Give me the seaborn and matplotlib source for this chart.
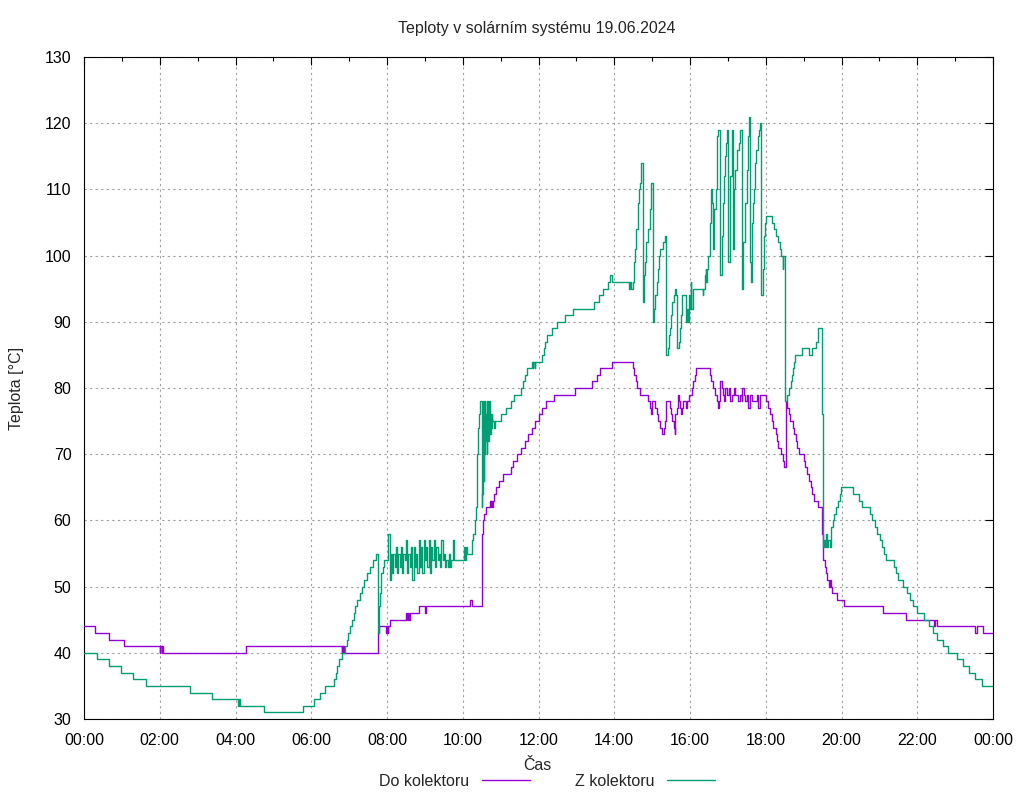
import matplotlib
matplotlib.use("Agg")
import matplotlib.pyplot as plt
import seaborn as sns
import pandas as pd
from matplotlib.ticker import MultipleLocator
from matplotlib.lines import Line2D

# ---------------- data ----------------
title_text = "Teploty v solárním systému 19.06.2024"
x_label = "Čas"
y_label = "Teplota [°C]"
series_names = ["Do kolektoru", "Z kolektoru"]
x_tick_labels = ["00:00", "02:00", "04:00", "06:00", "08:00", "10:00", "12:00",
                 "14:00", "16:00", "18:00", "20:00", "22:00", "00:00"]
y_ticks = [30, 40, 50, 60, 70, 80, 90, 100, 110, 120, 130]

do_kolektoru = [
    ("00:00", 44), ("00:17", 43), ("00:39", 42), ("01:04", 41), ("02:00", 40), ("02:01", 41),
    ("02:03", 40), ("02:04", 41), ("02:05", 40), ("04:17", 41), ("06:48", 40), ("06:49", 41),
    ("06:50", 40), ("06:51", 41), ("06:52", 40), ("07:45", 41), ("07:46", 43), ("07:47", 44),
    ("07:59", 43), ("08:00", 44), ("08:01", 43), ("08:02", 44), ("08:05", 45), ("08:30", 46),
    ("08:32", 45), ("08:34", 46), ("08:35", 45), ("08:37", 46), ("08:50", 47), ("09:00", 46),
    ("09:02", 47), ("10:11", 48), ("10:14", 47), ("10:30", 51), ("10:31", 58), ("10:32", 60),
    ("10:34", 61), ("10:37", 62), ("10:43", 63), ("10:44", 62), ("10:45", 63), ("10:47", 62),
    ("10:48", 63), ("10:50", 64), ("10:53", 65), ("10:58", 66), ("11:04", 67), ("11:17", 68),
    ("11:20", 69), ("11:26", 70), ("11:33", 71), ("11:38", 72), ("11:44", 73), ("11:49", 74),
    ("11:55", 75), ("12:00", 76), ("12:05", 77), ("12:12", 78), ("12:24", 79), ("12:58", 80),
    ("13:24", 81), ("13:33", 82), ("13:38", 83), ("13:56", 84), ("14:30", 83), ("14:32", 82),
    ("14:34", 81), ("14:36", 80), ("14:40", 79), ("14:54", 78), ("14:56", 77), ("14:58", 76),
    ("15:00", 78), ("15:05", 77), ("15:07", 76), ("15:10", 75), ("15:12", 74), ("15:15", 73),
    ("15:19", 74), ("15:21", 75), ("15:22", 78), ("15:28", 77), ("15:30", 76), ("15:32", 75),
    ("15:34", 74), ("15:36", 73), ("15:37", 76), ("15:39", 77), ("15:41", 79), ("15:43", 78),
    ("15:44", 77), ("15:45", 76), ("15:48", 77), ("15:49", 78), ("15:54", 77), ("15:55", 78),
    ("15:59", 79), ("16:03", 80), ("16:05", 81), ("16:08", 82), ("16:10", 83), ("16:32", 82),
    ("16:34", 81), ("16:37", 80), ("16:40", 79), ("16:42", 78), ("16:45", 77), ("16:46", 78),
    ("16:47", 81), ("16:50", 80), ("16:53", 79), ("16:54", 78), ("16:55", 80), ("16:58", 79),
    ("17:01", 80), ("17:03", 78), ("17:06", 79), ("17:09", 80), ("17:11", 79), ("17:16", 78),
    ("17:19", 79), ("17:22", 78), ("17:23", 80), ("17:25", 79), ("17:27", 78), ("17:30", 79),
    ("17:32", 77), ("17:35", 79), ("17:38", 78), ("17:46", 79), ("17:48", 77), ("17:51", 79),
    ("18:01", 78), ("18:04", 77), ("18:07", 76), ("18:10", 75), ("18:12", 74), ("18:16", 73),
    ("18:18", 72), ("18:20", 71), ("18:24", 70), ("18:27", 69), ("18:29", 68), ("18:32", 78),
    ("18:34", 77), ("18:37", 76), ("18:39", 75), ("18:43", 74), ("18:45", 73), ("18:48", 72),
    ("18:50", 71), ("18:53", 70), ("19:00", 69), ("19:02", 68), ("19:05", 67), ("19:08", 66),
    ("19:11", 65), ("19:14", 64), ("19:16", 63), ("19:23", 62), ("19:29", 58), ("19:30", 55),
    ("19:31", 54), ("19:34", 53), ("19:35", 52), ("19:37", 51), ("19:40", 50), ("19:42", 51),
    ("19:43", 50), ("19:45", 49), ("19:53", 48), ("20:04", 47), ("21:06", 46), ("21:42", 45),
    ("22:27", 44), ("22:28", 45), ("22:31", 44), ("23:31", 43), ("23:35", 44), ("23:44", 43),
    ("24:00", 43),
]

z_kolektoru = [
    ("00:00", 40), ("00:20", 39), ("00:40", 38), ("00:58", 37), ("01:18", 36), ("01:39", 35),
    ("02:48", 34), ("03:23", 33), ("04:04", 32), ("04:05", 33), ("04:07", 32), ("04:45", 31),
    ("05:47", 32), ("06:04", 33), ("06:14", 34), ("06:21", 35), ("06:36", 36), ("06:39", 37),
    ("06:41", 38), ("06:44", 39), ("06:49", 40), ("06:53", 41), ("06:56", 42), ("06:59", 43),
    ("07:01", 44), ("07:04", 45), ("07:07", 46), ("07:10", 47), ("07:13", 48), ("07:17", 49),
    ("07:21", 50), ("07:24", 51), ("07:28", 52), ("07:33", 53), ("07:38", 54), ("07:42", 55),
    ("07:46", 43), ("07:47", 45), ("07:48", 47), ("07:49", 49), ("07:50", 50), ("07:51", 52),
    ("07:53", 53), ("07:55", 54),
    ("08:02", 58), ("08:04", 51), ("08:06", 55), ("08:08", 52), ("08:10", 55), ("08:12", 53),
    ("08:14", 56), ("08:16", 52), ("08:18", 55), ("08:20", 53), ("08:22", 56), ("08:24", 52),
    ("08:26", 55), ("08:28", 54), ("08:30", 57), ("08:32", 52), ("08:34", 55), ("08:36", 53),
    ("08:38", 56), ("08:40", 51), ("08:42", 56), ("08:44", 53), ("08:46", 55), ("08:48", 52),
    ("08:50", 57), ("08:52", 53), ("08:54", 56), ("08:56", 52), ("08:58", 57), ("09:00", 54),
    ("09:02", 56), ("09:04", 53), ("09:06", 57), ("09:08", 52), ("09:10", 56), ("09:12", 54),
    ("09:14", 57), ("09:16", 53), ("09:18", 56), ("09:20", 54), ("09:22", 55), ("09:24", 53),
    ("09:26", 57), ("09:28", 54), ("09:30", 55), ("09:32", 53), ("09:34", 54), ("09:36", 53),
    ("09:38", 55), ("09:40", 53), ("09:42", 54), ("09:44", 57), ("09:46", 54),
    ("10:02", 56), ("10:03", 54), ("10:05", 56), ("10:06", 55), ("10:14", 57), ("10:17", 58),
    ("10:19", 60), ("10:21", 62), ("10:22", 66), ("10:23", 70), ("10:24", 74), ("10:25", 76),
    ("10:27", 78), ("10:30", 62), ("10:31", 64), ("10:32", 78), ("10:33", 66), ("10:34", 70),
    ("10:35", 78), ("10:36", 72), ("10:37", 76), ("10:38", 70), ("10:39", 78), ("10:40", 72),
    ("10:41", 75), ("10:42", 78), ("10:43", 73), ("10:44", 76), ("10:45", 74), ("10:46", 76),
    ("10:47", 75), ("10:49", 74), ("10:51", 75), ("11:01", 76), ("11:09", 77), ("11:17", 78),
    ("11:21", 79), ("11:32", 80), ("11:36", 81), ("11:38", 82), ("11:41", 83), ("11:49", 84),
    ("11:51", 83), ("11:52", 84), ("11:54", 83), ("11:55", 84), ("12:05", 85), ("12:08", 86),
    ("12:10", 87), ("12:13", 88), ("12:21", 89), ("12:30", 90), ("12:42", 91), ("12:55", 92),
    ("13:28", 93), ("13:36", 94), ("13:42", 95), ("13:50", 96), ("13:54", 97), ("13:56", 96),
    ("14:24", 95), ("14:25", 96), ("14:27", 95), ("14:29", 96),
    ("14:32", 99), ("14:33", 101), ("14:34", 103), ("14:35", 104), ("14:37", 106), ("14:38", 108),
    ("14:39", 110), ("14:40", 111), ("14:42", 113), ("14:43", 114), ("14:45", 93), ("14:47", 97),
    ("14:48", 99), ("14:50", 101), ("14:51", 102), ("14:54", 104), ("14:56", 107), ("14:58", 108),
    ("14:59", 111), ("15:01", 90), ("15:03", 92), ("15:05", 94), ("15:07", 96), ("15:09", 98),
    ("15:11", 100), ("15:13", 101), ("15:18", 102), ("15:20", 103), ("15:22", 85), ("15:25", 86),
    ("15:27", 88), ("15:28", 89), ("15:30", 91), ("15:32", 93), ("15:34", 94), ("15:36", 95),
    ("15:38", 94), ("15:39", 86), ("15:42", 87), ("15:44", 89), ("15:45", 91), ("15:47", 92),
    ("15:48", 94), ("15:54", 90), ("15:56", 92), ("15:57", 90), ("15:59", 94), ("16:00", 92),
    ("16:01", 96), ("16:02", 92), ("16:04", 94), ("16:05", 95), ("16:20", 94), ("16:21", 95),
    ("16:24", 97), ("16:25", 98), ("16:26", 96), ("16:27", 98), ("16:29", 100), ("16:32", 105),
    ("16:33", 108), ("16:34", 110), ("16:35", 108), ("16:37", 101), ("16:38", 107), ("16:41", 110),
    ("16:42", 116), ("16:43", 118), ("16:45", 119), ("16:47", 97), ("16:50", 103), ("16:52", 108),
    ("16:54", 112), ("16:55", 115), ("16:57", 117), ("16:58", 119), ("17:00", 99), ("17:03", 105),
    ("17:04", 112), ("17:06", 119), ("17:08", 101), ("17:10", 110), ("17:11", 113), ("17:14", 116),
    ("17:17", 117), ("17:19", 119), ("17:22", 95), ("17:24", 102), ("17:27", 108), ("17:30", 113),
    ("17:32", 118), ("17:34", 121), ("17:35", 99), ("17:36", 96), ("17:38", 98), ("17:39", 105),
    ("17:40", 108), ("17:42", 110), ("17:43", 114), ("17:45", 116), ("17:47", 117), ("17:48", 118),
    ("17:50", 119), ("17:51", 120), ("17:52", 94), ("17:56", 98), ("17:58", 103), ("17:59", 105),
    ("18:00", 106), ("18:10", 105), ("18:13", 104), ("18:16", 103), ("18:20", 102), ("18:22", 101),
    ("18:24", 100), ("18:27", 98), ("18:28", 100), ("18:31", 78), ("18:33", 79), ("18:37", 80),
    ("18:40", 81), ("18:41", 82), ("18:43", 83), ("18:45", 84), ("18:46", 85), ("18:57", 86),
    ("19:09", 85), ("19:13", 86), ("19:20", 87), ("19:22", 88), ("19:23", 89), ("19:29", 76),
    ("19:30", 63), ("19:31", 56), ("19:33", 57), ("19:34", 56), ("19:36", 58), ("19:37", 56),
    ("19:39", 57), ("19:41", 56), ("19:43", 59), ("19:46", 60), ("19:48", 61), ("19:51", 62),
    ("19:54", 63), ("19:57", 64), ("19:59", 65), ("20:18", 64), ("20:27", 63), ("20:33", 62),
    ("20:45", 61), ("20:49", 60), ("20:53", 59), ("20:56", 58), ("21:01", 57), ("21:04", 56),
    ("21:07", 55), ("21:11", 54), ("21:23", 53), ("21:26", 52), ("21:30", 51), ("21:37", 50),
    ("21:43", 49), ("21:48", 48), ("21:54", 47), ("21:59", 46), ("22:10", 45), ("22:19", 44),
    ("22:25", 43), ("22:32", 42), ("22:41", 41), ("22:49", 40), ("23:03", 39), ("23:12", 38),
    ("23:22", 37), ("23:31", 36), ("23:42", 35), ("24:00", 35),
]

colors = ["#9400D3", "#009E73"]

# ---------------- helpers ----------------
def to_hours(t):
    h, m = t.split(":")
    return int(h) + int(m) / 60.0


def to_frame(points, name):
    return pd.DataFrame({
        "hodina": [to_hours(t) for t, _ in points],
        "teplota": [v for _, v in points],
        "serie": name,
    })


sns.set_theme(style="white")
plt.rcParams["font.family"] = ["Liberation Sans", "DejaVu Sans"]
FS = 11.5

fig = plt.figure(figsize=(10.24, 8.0), dpi=100)
ax = fig.add_axes([84 / 1024, 81 / 800, 909 / 1024, 662 / 800])

for pts, name, col in zip([do_kolektoru, z_kolektoru], series_names, colors):
    sns.lineplot(data=to_frame(pts, name), x="hodina", y="teplota", ax=ax,
                 color=col, linewidth=1.0, drawstyle="steps-post",
                 estimator=None, sort=False, legend=False, zorder=3)

ax.set_xlim(0, 24)
ax.set_ylim(30, 130)
ax.set_xticks(range(0, 25, 2))
ax.set_xticklabels(x_tick_labels)
ax.xaxis.set_minor_locator(MultipleLocator(1))
ax.set_yticks(y_ticks)
ax.set_yticklabels([str(v) for v in y_ticks])

ax.tick_params(which="both", direction="in", top=True, right=True,
               colors="black", labelsize=FS, width=0.8)
ax.tick_params(which="major", length=6)
ax.tick_params(which="minor", length=3)
ax.tick_params(axis="y", pad=9)
ax.tick_params(axis="x", pad=10)

ax.grid(True, which="major", color="#a0a0a0", linestyle=(0, (2.0, 3.0)), linewidth=0.8)
ax.set_axisbelow(True)
for sp in ax.spines.values():
    sp.set_color("black")
    sp.set_linewidth(0.8)

ax.set_xlabel("")
ax.set_ylabel("")
fig.text(537 / 1024, 1 - 28 / 800, title_text, ha="center", va="center", fontsize=FS)
fig.text(537 / 1024, 1 - 765 / 800, x_label, ha="center", va="center", fontsize=FS)
fig.text(17 / 1024, 1 - 388 / 800, y_label, ha="center", va="center", rotation=90, fontsize=FS)

handles = [Line2D([], [], color=c, linewidth=1.0) for c in colors]
fig.legend(handles, series_names, ncol=2, loc="center",
           bbox_to_anchor=(547 / 1024, 1 - 781 / 800), frameon=False,
           markerfirst=False, handlelength=3.0, handletextpad=0.8,
           columnspacing=2.8, fontsize=FS)

fig.savefig("out.png", dpi=100)
